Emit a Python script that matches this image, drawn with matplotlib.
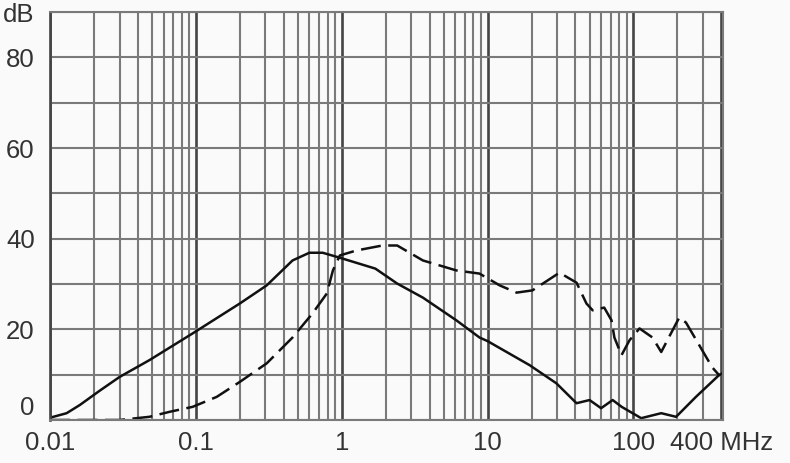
import matplotlib.pyplot as plt
from matplotlib.ticker import LogLocator, MultipleLocator, NullFormatter

plt.rcParams['font.family'] = ['Liberation Sans', 'DejaVu Sans']

# solid curve
f_solid = [0.01, 0.013, 0.016, 0.022, 0.030, 0.048, 0.095, 0.20, 0.306, 0.46, 0.60, 0.74, 0.97,
           1.7, 2.4, 3.6, 6.1, 8.8, 10, 19.4, 29.6, 40.7, 50, 60, 72, 83, 113, 155, 196, 268, 386, 410]
db_solid = [0.5, 1.5, 3.3, 6.5, 9.5, 13.2, 19.1, 25.7, 29.7, 35.2, 36.9, 36.9, 35.8,
            33.4, 30.1, 27, 22, 18.2, 17.4, 12.1, 8.1, 3.7, 4.4, 2.6, 4.4, 2.9, 0.4, 1.5, 0.7, 5.1, 9.9, 10.3]

# dashed curve
f_dash = [0.01, 0.03, 0.048, 0.066, 0.095, 0.139, 0.20, 0.306, 0.46, 0.63, 0.79, 0.87, 0.97, 1.26, 1.9,
          2.4, 3.6, 6.1, 8.8, 12.1, 15.8, 20.3, 31.1, 40.7, 47.6, 52.5, 63, 70.7, 74, 82.8, 94,
          110, 135, 155, 182, 206, 229, 347, 386, 410]
db_dash = [0.0, 0.0, 0.7, 1.8, 2.9, 5.1, 8.4, 12.5, 18.2, 23.5, 27.9, 33, 36.3, 37.4, 38.5,
           38.5, 35.2, 33, 32.3, 29.7, 28.1, 28.6, 32.5, 30.3, 25.7, 24.2, 24.8, 22, 18.2, 14.3, 17.6,
           20.2, 18.2, 15, 19.3, 22.6, 21.5, 11.6, 9.9, 10.3]

xticks = [0.01, 0.1, 1, 10, 100, 400]
xlabels = ['0.01', '0.1', '1', '10', '100', '400 MHz']
yticks = [0, 20, 40, 60, 80, 90]
ylabels = ['0', '20', '40', '60', '80', 'dB']

fig = plt.figure(figsize=(7.9, 4.63), dpi=100)
fig.patch.set_facecolor('#fafafa')
ax = fig.add_axes([0.0633, 0.0929, 0.8517, 0.881])
ax.set_facecolor('#fafafa')

ax.plot(f_solid, db_solid, color='#111111', lw=1.8)
ax.plot(f_dash, db_dash, color='#111111', lw=1.8, dashes=(8, 3))

ax.set_xscale('log')
ax.set_xlim(0.01, 410)
ax.set_ylim(0, 90)

ax.xaxis.set_minor_locator(LogLocator(base=10, subs=range(2, 10), numticks=20))
ax.xaxis.set_minor_formatter(NullFormatter())
ax.yaxis.set_minor_locator(MultipleLocator(10))
ax.set_xticks(xticks)
ax.set_xticklabels(xlabels)
ax.set_yticks(yticks)
ax.set_yticklabels(ylabels)

ax.grid(True, which='minor', color='#7a7a7a', lw=1.5)
ax.grid(True, which='major', axis='x', color='#444444', lw=1.9)
ax.grid(True, which='major', axis='y', color='#7a7a7a', lw=1.5)
ax.set_axisbelow(True)

ax.tick_params(which='both', length=0, labelsize=18.5, colors='#333333')
ax.tick_params(axis='x', pad=8)
ax.tick_params(axis='y', pad=11)
# the "0" label sits a little above the bottom line
ax.get_yticklabels()[0].set_va('bottom')
for s in ax.spines.values():
    s.set_color('#7a7a7a')
    s.set_linewidth(1.5)
ax.spines['left'].set_color('#444444')
ax.spines['left'].set_linewidth(1.9)

fig.savefig('out.png', dpi=100, facecolor=fig.get_facecolor())
